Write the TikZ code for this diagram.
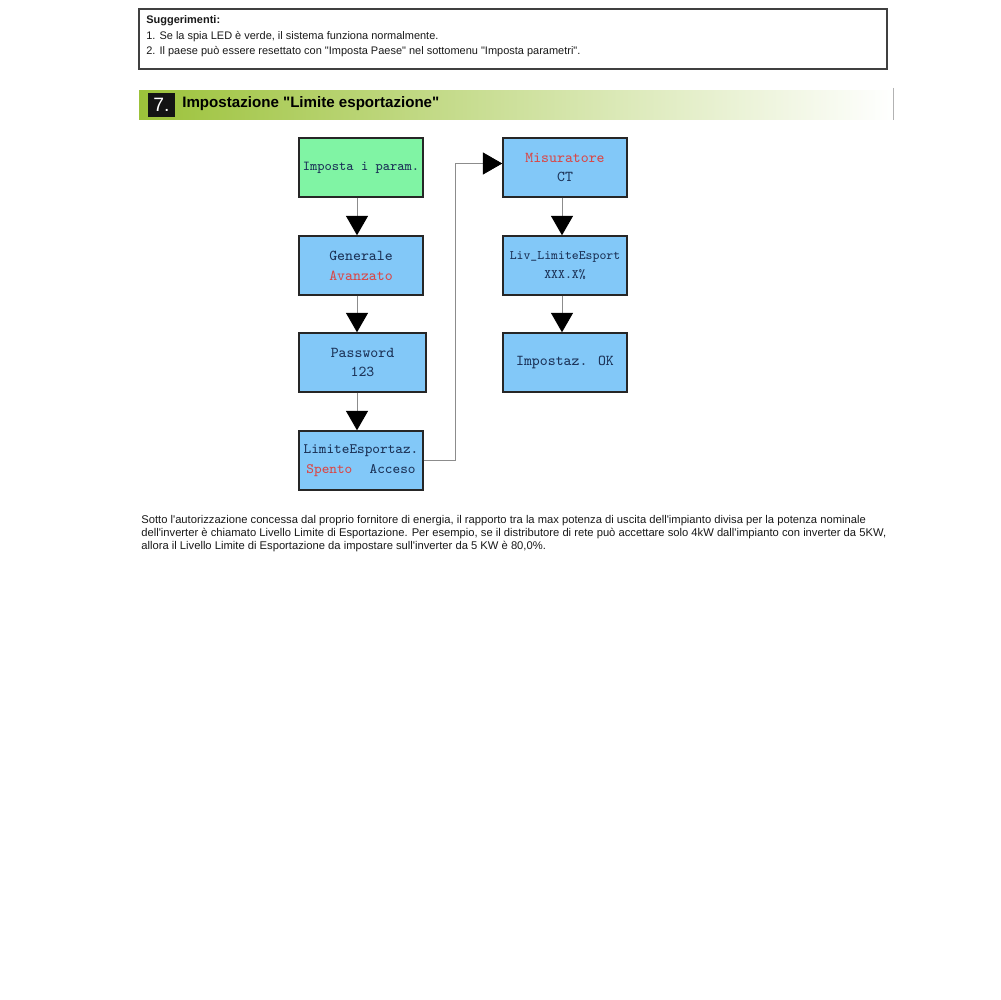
\documentclass[tikz,border=0pt]{standalone}
\usepackage{fontspec}
\setmainfont{Liberation Sans}[Ligatures=TeXOff]
\usetikzlibrary{arrows.meta,calc}
\definecolor{boxblue}{HTML}{82C8F8}
\definecolor{boxgreen}{HTML}{80F4A4}
\definecolor{txtblue}{HTML}{1C3358}
\definecolor{txtred}{HTML}{D84848}
\definecolor{hdrgreen}{HTML}{9CC23A}
\definecolor{hdrmid}{HTML}{D6E5A2}
\begin{document}
\begin{tikzpicture}[x=0.02cm,y=-0.02cm,
  flowbox/.style={draw=black!85, line width=0.85pt, fill=boxblue, inner sep=0pt,
    minimum width=2.48cm, minimum height=1.18cm, align=center, text=txtblue,
    font=\ttfamily\fontsize{8.6}{11.3}\selectfont},
  conn/.style={draw=black!45, line width=0.5pt,
    -{Triangle[width=12.5pt,length=11pt,color=black]}},
  hintline/.style={anchor=west, inner sep=0pt, text=black!90, font=\fontsize{6.25}{7}\selectfont},
  para/.style={anchor=west, inner sep=0pt, text=black!90, font=\fontsize{6.38}{7}\selectfont}]
\fill[white] (0,0) rectangle (1000,1000);
\useasboundingbox (0,0) rectangle (1000,1000);
% hints box
\draw[black!75, line width=0.6pt] (139,9) rectangle (887,69);
\node[hintline, font=\bfseries\fontsize{6.25}{7}\selectfont] (hint) at (146,21) {Suggerimenti:};
\node[hintline] (hint1) at (146,37) {1. Se la spia LED è verde, il sistema funziona normalmente.};
\node[hintline] (hint2) at (146,52) {2. Il paese può essere resettato con "Imposta Paese" nel sottomenu "Imposta parametri".};
% header
\shade[left color=hdrgreen, middle color=hdrmid, right color=white] (139,91) rectangle (893,120);
\draw[black!30, line width=0.5pt] (893,88) -- (893,120);
\node[fill=black!92, text=white, inner sep=0pt, minimum width=0.54cm, minimum height=0.48cm,
  font=\fontsize{11}{12}\selectfont] (num) at (161.5,105) {7.};
\node[anchor=west, inner sep=0pt, font=\bfseries\fontsize{8.6}{10}\selectfont] (title) at (182,104)
  {Impostazione "Limite esportazione"};
% flow boxes
\node[flowbox, fill=boxgreen, font=\ttfamily\fontsize{7.8}{10}\selectfont] (n1) at (361,167.5) {Imposta i param.};
\node[flowbox] (n2) at (361,265.5) {Generale\\\textcolor{txtred}{Avanzato}};
\node[flowbox, minimum width=2.54cm] (n3) at (362.5,362.5) {Password\\123};
\node[flowbox, font=\ttfamily\fontsize{8.2}{11.3}\selectfont] (n4) at (361,460.5) {LimiteEsportaz.\\\textcolor{txtred}{Spento}\hspace{1.2em}Acceso};
\node[flowbox] (m1) at (565,167.5) {\textcolor{txtred}{Misuratore}\\CT};
\node[flowbox, font=\ttfamily\fontsize{7.4}{11}\selectfont] (m2) at (565,265.5) {Liv\_LimiteEsport\\XXX.X\%};
\node[flowbox] (m3) at (565,362.5) {Impostaz. OK};
% connectors
\coordinate (ax) at (357,0);
\coordinate (bx) at (562,0);
\coordinate (cx) at (455,0);
\draw[conn] (n1.south -| ax) -- (n2.north -| ax);
\draw[conn] (n2.south -| ax) -- (n3.north -| ax);
\draw[conn] (n3.south -| ax) -- (n4.north -| ax);
\draw[conn] (m1.south -| bx) -- (m2.north -| bx);
\draw[conn] (m2.south -| bx) -- (m3.north -| bx);
\draw[conn] (n4.east) -- (n4.east -| cx) -- ($(m1.west -| cx)+(0,-4)$) -- ($(m1.west)+(0,-4)$);
% paragraph
\node[para] (p1) at (141,521) {Sotto l'autorizzazione concessa dal proprio fornitore di energia, il rapporto tra la max potenza di uscita dell'impianto divisa per la potenza nominale};
\node[para] (p2) at (141,534) {dell'inverter è chiamato Livello Limite di Esportazione. Per esempio, se il distributore di rete può accettare solo 4kW dall'impianto con inverter da 5KW,};
\node[para] (p3) at (141,547) {allora il Livello Limite di Esportazione da impostare sull'inverter da 5 KW è 80,0\%.};
\end{tikzpicture}
\end{document}
